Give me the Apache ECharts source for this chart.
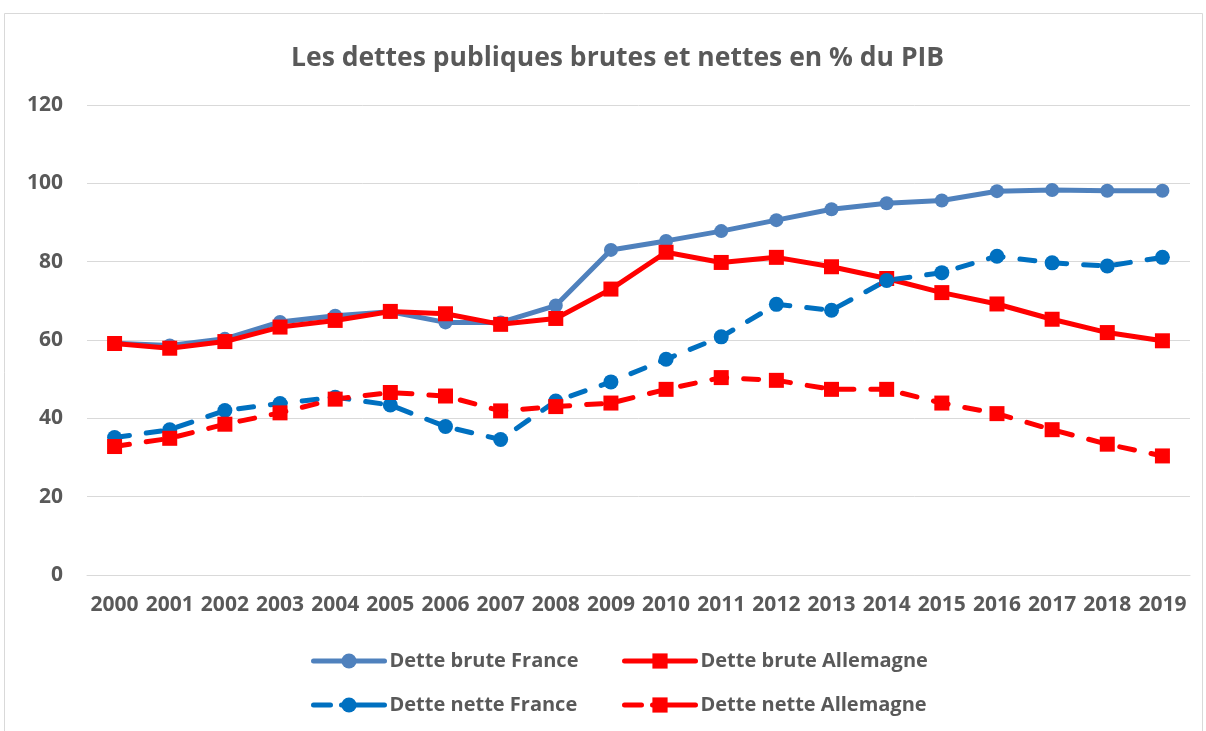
<!DOCTYPE html>
<html><head><meta charset="utf-8">
<script src="https://cdn.jsdelivr.net/npm/echarts@6/dist/echarts.min.js"></script>
<style>html,body{margin:0;padding:0;background:#fff}#c{width:1206px;height:731px}</style>
</head><body><div id="c"></div>
<script>
const categories = ['2000','2001','2002','2003','2004','2005','2006','2007','2008','2009','2010','2011','2012','2013','2014','2015','2016','2017','2018','2019'];
const brutFrance = [59.2, 58.6, 60.3, 64.6, 66.2, 67.2, 64.5, 64.5, 68.8, 83.0, 85.3, 87.8, 90.6, 93.4, 94.9, 95.6, 98.0, 98.3, 98.1, 98.1];
const brutAllemagne = [59.1, 57.9, 59.6, 63.3, 65.0, 67.3, 66.7, 64.0, 65.5, 73.0, 82.4, 79.8, 81.1, 78.7, 75.7, 72.1, 69.2, 65.3, 61.9, 59.8];
const netteFrance = [35.1, 37.1, 42.0, 43.8, 45.4, 43.4, 37.9, 34.6, 44.4, 49.3, 55.1, 60.8, 69.1, 67.6, 75.2, 77.2, 81.4, 79.7, 78.9, 81.1];
const netteAllemagne = [32.8, 34.9, 38.5, 41.4, 44.9, 46.6, 45.7, 41.9, 43.0, 43.9, 47.4, 50.4, 49.7, 47.4, 47.4, 43.9, 41.2, 37.1, 33.4, 30.4];
const names = ['Dette brute France','Dette brute Allemagne','Dette nette France','Dette nette Allemagne'];

const FONT = 'Open Sans';
const TXT = '#595959';
const DASH = [15,17];
const chart = echarts.init(document.getElementById('c'), null, {renderer:'canvas'});
function legendAt(name, left, top, dashed){
  return {data:[name], left:left, top:top, itemWidth:71, itemHeight:19, itemGap:0,
    lineStyle:{width:5, type: dashed ? [17,11,50,0] : 'solid', cap:'round'},
    textStyle:{fontFamily:FONT, fontSize:20, fontWeight:'bold', color:TXT}, padding:0};
}
chart.setOption({
  animation:false,
  backgroundColor:'#fff',
  graphic:[{type:'rect', shape:{x:4.5,y:13.5,width:1198,height:740}, style:{fill:'none', stroke:'#d9d9d9', lineWidth:1}, silent:true}],
  title:{text:'Les dettes publiques brutes et nettes en % du PIB', left:286, top:40,
    textStyle:{fontFamily:FONT, fontSize:26.5, fontWeight:'bold', color:TXT}},
  legend:[legendAt(names[0],311,651,false), legendAt(names[1],622,651,false), legendAt(names[2],311,695,true), legendAt(names[3],622,695,true)],
  grid:{left:87, right:16, top:105, bottom:156, containLabel:false},
  xAxis:{type:'category', data:categories, boundaryGap:true,
    axisLine:{lineStyle:{color:'#d9d9d9', width:1}}, axisTick:{show:false},
    axisLabel:{interval:0, hideOverlap:false, fontFamily:FONT, fontSize:21, fontWeight:'bold', color:TXT, margin:20}},
  yAxis:{type:'value', min:0, max:120, interval:20,
    axisLine:{show:false}, axisTick:{show:false},
    splitLine:{lineStyle:{color:'#d9d9d9', width:1}},
    axisLabel:{fontFamily:FONT, fontSize:21, fontWeight:'bold', color:TXT, margin:24}},
  series:[
    {name:names[0], type:'line', data:brutFrance, symbol:'circle', symbolSize:14,
      lineStyle:{color:'#4f81bd', width:5}, itemStyle:{color:'#4f81bd'}},
    {name:names[1], type:'line', data:brutAllemagne, symbol:'rect', symbolSize:15,
      lineStyle:{color:'#ff0000', width:5}, itemStyle:{color:'#ff0000'}},
    {name:names[2], type:'line', data:netteFrance, symbol:'circle', symbolSize:15,
      lineStyle:{color:'#0070c0', width:5, type:DASH, cap:'round'}, itemStyle:{color:'#0070c0'}},
    {name:names[3], type:'line', data:netteAllemagne, symbol:'rect', symbolSize:15,
      lineStyle:{color:'#ff0000', width:5, type:DASH, cap:'round'}, itemStyle:{color:'#ff0000'}}
  ]
});
</script></body></html>
